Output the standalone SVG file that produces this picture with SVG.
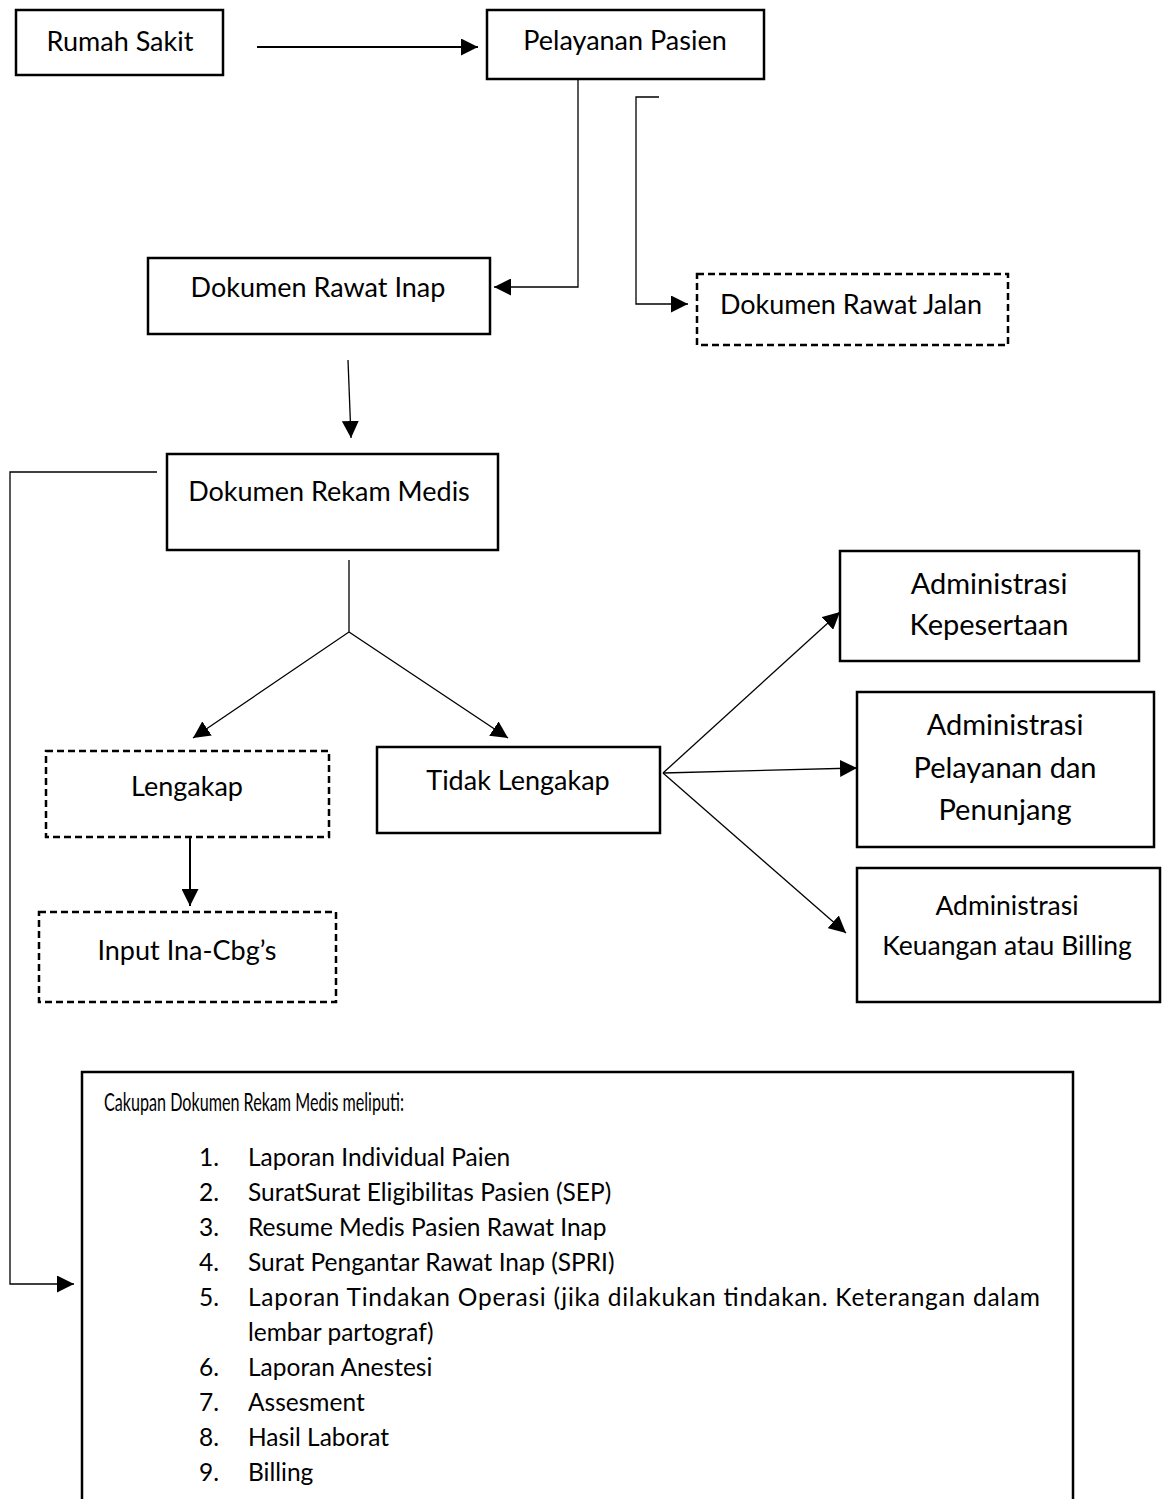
<svg xmlns="http://www.w3.org/2000/svg" width="1168" height="1499" viewBox="0 0 1168 1499">
<style>
.box{fill:#fff;stroke:#000;stroke-width:2.5}
.dash{fill:#fff;stroke:#000;stroke-width:2.5;stroke-dasharray:7 4}
.t{font-family:Lato,"Liberation Sans",sans-serif;font-size:27px;fill:#000;text-anchor:middle}
.ta{font-family:Lato,"Liberation Sans",sans-serif;font-size:29px;fill:#000;text-anchor:middle}
.tb{font-family:Lato,"Liberation Sans",sans-serif;font-size:26.5px;fill:#000;text-anchor:middle}
.l{font-family:Lato,"Liberation Sans",sans-serif;font-size:24.5px;fill:#000}
.c{fill:none;stroke:#000;stroke-width:1.3}
.c2{fill:none;stroke:#000;stroke-width:2}
</style>
<defs>
<marker id="ah" viewBox="0 0 10 10" refX="10" refY="5" markerWidth="17" markerHeight="17" markerUnits="userSpaceOnUse" orient="auto">
<path d="M0,0 L10,5 L0,10 z" fill="#000"/>
</marker>
</defs>
<g id="connectors">
<line class="c2" x1="257" y1="47" x2="478" y2="47" marker-end="url(#ah)"/>
<polyline class="c" points="578,79 578,287 494,287" marker-end="url(#ah)"/>
<polyline class="c" points="659,97 636,97 636,304 688,304" marker-end="url(#ah)"/>
<line class="c" x1="348" y1="360" x2="351" y2="438" marker-end="url(#ah)"/>
<polyline class="c" points="157,472 10,472 10,1284 74,1284" marker-end="url(#ah)"/>
<polyline class="c" points="349,560 349,632 193,738" marker-end="url(#ah)"/>
<line class="c" x1="349" y1="632" x2="508" y2="738" marker-end="url(#ah)"/>
<line class="c2" x1="190" y1="838" x2="190" y2="906" marker-end="url(#ah)"/>
<line class="c" x1="663" y1="773" x2="840" y2="612" marker-end="url(#ah)"/>
<line class="c" x1="663" y1="773" x2="857" y2="768" marker-end="url(#ah)"/>
<line class="c" x1="663" y1="773" x2="846" y2="933" marker-end="url(#ah)"/>
</g>
<g id="rumah-sakit"><rect class="box" x="16" y="10" width="207" height="65"/><text class="t" x="120" y="51">Rumah Sakit</text></g>
<g id="pelayanan-pasien"><rect class="box" x="487" y="10" width="277" height="69"/><text class="t" x="625" y="50">Pelayanan Pasien</text></g>
<g id="dokumen-rawat-inap"><rect class="box" x="148" y="258" width="342" height="76"/><text class="t" x="318" y="297">Dokumen Rawat Inap</text></g>
<g id="dokumen-rawat-jalan"><rect class="dash" x="697" y="274" width="311" height="71"/><text class="t" x="851" y="314">Dokumen Rawat Jalan</text></g>
<g id="dokumen-rekam-medis"><rect class="box" x="167" y="454" width="331" height="96"/><text class="t" x="329" y="501">Dokumen Rekam Medis</text></g>
<g id="lengakap"><rect class="dash" x="46" y="751" width="283" height="86"/><text class="t" x="187" y="796">Lengakap</text></g>
<g id="input-ina-cbgs"><rect class="dash" x="39" y="912" width="297" height="90"/><text class="t" x="187" y="960">Input Ina-Cbg’s</text></g>
<g id="tidak-lengakap"><rect class="box" x="377" y="747" width="283" height="86"/><text class="t" x="518" y="790">Tidak Lengakap</text></g>
<g id="adm-kepesertaan"><rect class="box" x="840" y="551" width="299" height="110"/><text class="ta" x="989" y="594">Administrasi</text><text class="ta" x="989" y="635">Kepesertaan</text></g>
<g id="adm-pelayanan"><rect class="box" x="857" y="692" width="297" height="155"/><text class="ta" x="1005" y="735">Administrasi</text><text class="ta" x="1005" y="778">Pelayanan dan</text><text class="ta" x="1005" y="820">Penunjang</text></g>
<g id="adm-keuangan"><rect class="box" x="857" y="868" width="303" height="134"/><text class="tb" x="1007" y="915">Administrasi</text><text class="tb" x="1007" y="955">Keuangan atau Billing</text></g>
<g id="cakupan">
<rect class="box" x="82" y="1072" width="991" height="440"/>
<text class="l" x="104" y="1111" font-size="19" textLength="300" lengthAdjust="spacingAndGlyphs">Cakupan Dokumen Rekam Medis meliputi:</text>
<text class="l" x="199" y="1166">1.</text><text class="l" x="248" y="1166">Laporan Individual Paien</text>
<text class="l" x="199" y="1201">2.</text><text class="l" x="248" y="1201">SuratSurat Eligibilitas Pasien (SEP)</text>
<text class="l" x="199" y="1236">3.</text><text class="l" x="248" y="1236">Resume Medis Pasien Rawat Inap</text>
<text class="l" x="199" y="1271">4.</text><text class="l" x="248" y="1271">Surat Pengantar Rawat Inap (SPRI)</text>
<text class="l" x="199" y="1306">5.</text><text class="l" x="248" y="1306" textLength="792" lengthAdjust="spacing">Laporan Tindakan Operasi (jika dilakukan tindakan. Keterangan dalam</text>
<text class="l" x="248" y="1341">lembar partograf)</text>
<text class="l" x="199" y="1376">6.</text><text class="l" x="248" y="1376">Laporan Anestesi</text>
<text class="l" x="199" y="1411">7.</text><text class="l" x="248" y="1411">Assesment</text>
<text class="l" x="199" y="1446">8.</text><text class="l" x="248" y="1446">Hasil Laborat</text>
<text class="l" x="199" y="1481">9.</text><text class="l" x="248" y="1481">Billing</text>
</g>
</svg>
